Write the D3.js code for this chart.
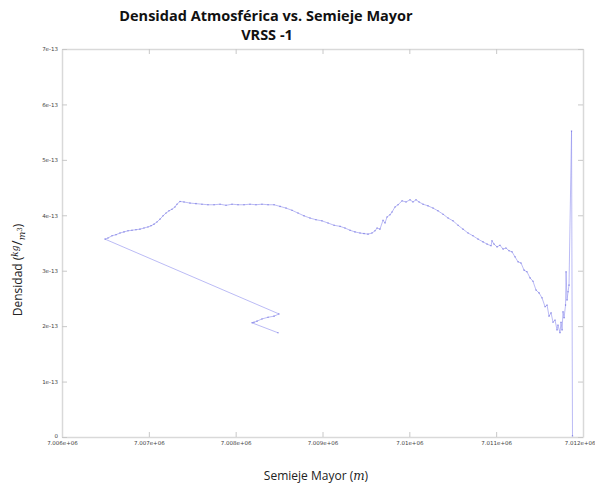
<!DOCTYPE html>
<html>
<head>
<meta charset="utf-8">
<script src="https://cdn.jsdelivr.net/npm/d3@7"></script>
<style>
  body { margin: 0; background: #fff; }
  svg { display: block; }
</style>
</head>
<body>
<div id="chart"></div>
<script>

// semi-major axis (m), in the order the trajectory is drawn
var semiMajor = [
	7011879, 7011868, 7011839, 7011828, 7011816, 7011805, 7011799, 7011782, 7011770, 7011759,
	7011747, 7011735, 7011712, 7011701, 7011678, 7011655, 7011632, 7011609, 7011586, 7011563,
	7011528, 7011494, 7011459, 7011424, 7011390, 7011355, 7011321, 7011286, 7011252, 7011217,
	7011183, 7011148, 7011113, 7011079, 7011044, 7011010, 7010975, 7010952, 7010941, 7010895,
	7010849, 7010791, 7010733, 7010676, 7010618, 7010561, 7010503, 7010446, 7010388, 7010330,
	7010273, 7010215, 7010158, 7010112, 7010077, 7010042, 7010008, 7009962, 7009916, 7009870,
	7009835, 7009801, 7009778, 7009743, 7009720, 7009697, 7009662, 7009628, 7009605, 7009570,
	7009524, 7009478, 7009432, 7009374, 7009317, 7009259, 7009202, 7009133, 7009064, 7008994,
	7008925, 7008856, 7008787, 7008718, 7008649, 7008580, 7008511, 7008442, 7008373, 7008303,
	7008234, 7008165, 7008096, 7008027, 7007958, 7007889, 7007820, 7007751, 7007681, 7007612,
	7007543, 7007474, 7007405, 7007359, 7007324, 7007301, 7007267, 7007232, 7007198, 7007163,
	7007129, 7007094, 7007060, 7007025, 7006990, 7006944, 7006898, 7006852, 7006806, 7006760,
	7006714, 7006668, 7006622, 7006576, 7006530, 7006495,
	7008499, 7008442, 7008373, 7008303, 7008246, 7008211, 7008188, 7008488
];

// atmospheric density (kg/m^3)
var density = [
	0.02e-13, 5.52e-13, 2.74e-13, 2.62e-13, 2.47e-13, 2.98e-13, 2.38e-13, 2.15e-13, 2.26e-13, 1.93e-13,
	2.07e-13, 1.88e-13, 2.02e-13, 1.93e-13, 2.11e-13, 2.07e-13, 2.24e-13, 2.18e-13, 2.38e-13, 2.35e-13,
	2.51e-13, 2.60e-13, 2.65e-13, 2.81e-13, 2.87e-13, 2.98e-13, 3.01e-13, 3.14e-13, 3.16e-13, 3.25e-13,
	3.34e-13, 3.36e-13, 3.41e-13, 3.39e-13, 3.46e-13, 3.43e-13, 3.48e-13, 3.54e-13, 3.45e-13, 3.48e-13,
	3.52e-13, 3.57e-13, 3.63e-13, 3.68e-13, 3.75e-13, 3.82e-13, 3.90e-13, 3.95e-13, 4.02e-13, 4.08e-13,
	4.13e-13, 4.17e-13, 4.20e-13, 4.24e-13, 4.28e-13, 4.24e-13, 4.28e-13, 4.24e-13, 4.26e-13, 4.19e-13,
	4.15e-13, 4.06e-13, 4.01e-13, 3.97e-13, 3.86e-13, 3.91e-13, 3.75e-13, 3.77e-13, 3.72e-13, 3.68e-13,
	3.66e-13, 3.67e-13, 3.68e-13, 3.70e-13, 3.73e-13, 3.77e-13, 3.80e-13, 3.82e-13, 3.86e-13, 3.90e-13,
	3.92e-13, 3.95e-13, 3.99e-13, 4.04e-13, 4.09e-13, 4.13e-13, 4.16e-13, 4.19e-13, 4.19e-13, 4.20e-13,
	4.19e-13, 4.20e-13, 4.19e-13, 4.19e-13, 4.20e-13, 4.18e-13, 4.20e-13, 4.19e-13, 4.19e-13, 4.20e-13,
	4.21e-13, 4.22e-13, 4.24e-13, 4.25e-13, 4.20e-13, 4.15e-13, 4.11e-13, 4.08e-13, 4.04e-13, 3.99e-13,
	3.93e-13, 3.88e-13, 3.84e-13, 3.81e-13, 3.79e-13, 3.77e-13, 3.75e-13, 3.74e-13, 3.73e-13, 3.72e-13,
	3.70e-13, 3.68e-13, 3.65e-13, 3.63e-13, 3.59e-13, 3.57e-13,
	2.22e-13, 2.18e-13, 2.16e-13, 2.13e-13, 2.09e-13, 2.07e-13, 2.06e-13, 1.88e-13
];

var xTicks = [7006000, 7007000, 7008000, 7009000, 7010000, 7011000, 7012000];
var xTickLabels = ["7.006e+06", "7.007e+06", "7.008e+06", "7.009e+06", "7.01e+06", "7.011e+06", "7.012e+06"];
var yTicks = [0, 1e-13, 2e-13, 3e-13, 4e-13, 5e-13, 6e-13, 7e-13];
var yTickLabels = ["0", "1e-13", "2e-13", "3e-13", "4e-13", "5e-13", "6e-13", "7e-13"];

var width = 595, height = 486;
var margin = { top: 49, right: 12, bottom: 49, left: 62 };

var svg = d3.select("#chart").append("svg")
	.attr("width", width)
	.attr("height", height);

var x = d3.scaleLinear().domain([7006000, 7012000]).range([margin.left, width - margin.right]);
var y = d3.scaleLinear().domain([0, 7e-13]).range([height - margin.bottom, margin.top]);

var frameColor = "#d9d9d9";
var tickFont = "DejaVu Sans, sans-serif";

// axes: ticks drawn inward on all four sides
function fmtX(d) { return xTickLabels[xTicks.indexOf(d)]; }
function fmtY(d) { return yTickLabels[yTicks.indexOf(d)]; }

var gBottom = svg.append("g")
	.attr("transform", "translate(0," + y(0) + ")")
	.call(d3.axisBottom(x).tickValues(xTicks).tickFormat(fmtX).tickSizeInner(-5).tickSizeOuter(0).tickPadding(4));
var gTop = svg.append("g")
	.attr("transform", "translate(0," + y(7e-13) + ")")
	.call(d3.axisTop(x).tickValues(xTicks).tickFormat("").tickSizeInner(-5).tickSizeOuter(0));
var gLeft = svg.append("g")
	.attr("transform", "translate(" + x(7006000) + ",0)")
	.call(d3.axisLeft(y).tickValues(yTicks).tickFormat(fmtY).tickSizeInner(-5).tickSizeOuter(0).tickPadding(4));
var gRight = svg.append("g")
	.attr("transform", "translate(" + x(7012000) + ",0)")
	.call(d3.axisRight(y).tickValues(yTicks).tickFormat("").tickSizeInner(-5).tickSizeOuter(0));

[gBottom, gTop, gLeft, gRight].forEach(function(g) {
	g.select(".domain").attr("stroke", frameColor).attr("stroke-width", 1.5);
	g.selectAll(".tick line").attr("stroke", "#c8c8c8");
	g.selectAll(".tick text")
		.attr("fill", "#444")
		.style("font-family", tickFont)
		.style("font-size", "5.5px");
});
// "0" sits a little above the first x label, as in the source
gLeft.selectAll(".tick text").filter(function(d) { return d === 0; }).attr("dy", "0.1em");
// last x label is shifted so it stays inside the page
gBottom.selectAll(".tick text").filter(function(d) { return d === 7012000; }).attr("text-anchor", "end").attr("dx", 12);

// trajectory
var line = d3.line()
	.x(function(d, i) { return x(semiMajor[i]); })
	.y(function(d, i) { return y(density[i]); });

svg.append("path")
	.datum(density)
	.attr("d", line)
	.attr("fill", "none")
	.attr("stroke", "#8c8cee")
	.attr("stroke-width", 0.7)
	.attr("stroke-opacity", 0.85);

svg.append("g").selectAll("circle")
	.data(density)
	.join("circle")
	.attr("cx", function(d, i) { return x(semiMajor[i]); })
	.attr("cy", function(d) { return y(d); })
	.attr("r", 0.8)
	.attr("fill", "#4b4bd6")
	.attr("fill-opacity", 0.5);

// titles
var titleFont = "'Open Sans', sans-serif";
svg.append("text")
	.attr("x", 266).attr("y", 21)
	.attr("text-anchor", "middle")
	.style("font-family", titleFont)
	.style("font-weight", "bold")
	.style("font-size", "14.5px")
	.attr("fill", "#111")
	.text("Densidad Atmosférica vs. Semieje Mayor");
svg.append("text")
	.attr("x", 267).attr("y", 40)
	.attr("text-anchor", "middle")
	.style("font-family", titleFont)
	.style("font-weight", "bold")
	.style("font-size", "14.5px")
	.attr("fill", "#111")
	.text("VRSS -1");

// x axis label
var xl = svg.append("text")
	.attr("x", 316).attr("y", 480)
	.attr("text-anchor", "middle")
	.style("font-family", titleFont)
	.style("font-size", "12px")
	.attr("fill", "#222");
xl.append("tspan").text("Semieje Mayor (");
xl.append("tspan").style("font-family", "'DejaVu Serif', serif").style("font-style", "italic").text("m");
xl.append("tspan").text(")");

// y axis label
var yl = svg.append("text")
	.attr("transform", "translate(22,270) rotate(-90)")
	.attr("text-anchor", "middle")
	.style("font-family", titleFont)
	.style("font-size", "12px")
	.attr("fill", "#222");
yl.append("tspan").text("Densidad (");
yl.append("tspan").attr("dy", -4).style("font-family", "'DejaVu Serif', serif").style("font-style", "italic").style("font-size", "9px").text("kg");
yl.append("tspan").attr("dy", 4).style("font-size", "14px").text("/");
yl.append("tspan").attr("dy", 3).style("font-family", "'DejaVu Serif', serif").style("font-style", "italic").style("font-size", "9px").text("m");
yl.append("tspan").attr("dy", -3).style("font-family", "'DejaVu Serif', serif").style("font-size", "7px").text("3");
yl.append("tspan").attr("dy", 0).text(")");

</script>
</body>
</html>
